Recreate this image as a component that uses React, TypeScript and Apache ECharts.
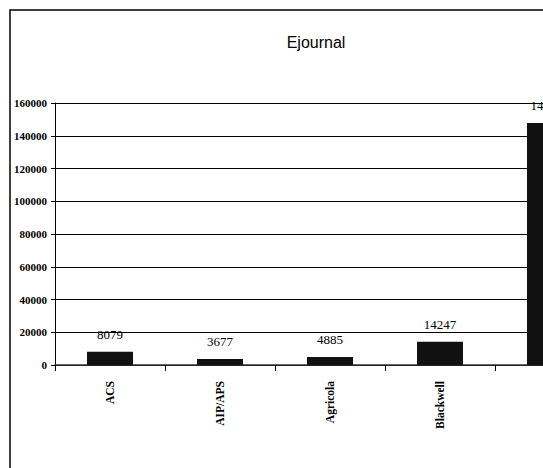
import React, { useEffect, useRef } from "react";
import * as echarts from "echarts";

const categories = ["ACS", "AIP/APS", "Agricola", "Blackwell", ""];
const values = [8079, 3677, 4885, 14247, 147800];
const yTicks = [0, 20000, 40000, 60000, 80000, 100000, 120000, 140000, 160000];
const titleText = "Ejournal";

export default function App() {
  const ref = useRef<HTMLDivElement>(null);
  useEffect(() => {
    if (!ref.current) return;
    const chart = echarts.init(ref.current, null, { renderer: "svg" });
    chart.setOption({
      animation: false,
      backgroundColor: "#ffffff",
      graphic: [
        {
          type: "rect",
          shape: { x: 10, y: 10, width: 800, height: 520 },
          style: { fill: "none", stroke: "#000", lineWidth: 1.5 },
          silent: true,
        },
        {
          type: "text",
          x: 316,
          y: 42,
          style: {
            text: titleText,
            font: "16px 'Liberation Sans', Arial, sans-serif",
            fill: "#000",
            textAlign: "center",
            textVerticalAlign: "middle",
          },
        },
      ],
      grid: { left: 55, top: 103, width: 550, height: 262, containLabel: false },
      xAxis: {
        type: "category",
        data: categories,
        axisLine: { show: true, lineStyle: { color: "#333", width: 1.5 } },
        axisTick: { show: true, length: 6, lineStyle: { color: "#000", width: 1 }, alignWithLabel: false },
        axisLabel: {
          rotate: 90,
          margin: 16,
          color: "#000",
          fontFamily: "'Liberation Serif', 'Times New Roman', serif",
          fontWeight: "bold",
          fontSize: 11.5,
          interval: 0,
        },
      },
      yAxis: {
        type: "value",
        min: yTicks[0],
        max: yTicks[yTicks.length - 1],
        interval: yTicks[1] - yTicks[0],
        axisLine: { show: true, lineStyle: { color: "#000", width: 1 } },
        axisTick: { show: true, length: 4, lineStyle: { color: "#000" } },
        splitLine: { show: true, lineStyle: { color: "#000", width: 1 } },
        axisLabel: {
          margin: 8,
          color: "#000",
          formatter: (v: number) => String(v),
          fontFamily: "'Liberation Serif', 'Times New Roman', serif",
          fontWeight: "bold",
          fontSize: 11,
        },
      },
      series: [
        {
          type: "bar",
          data: values,
          barWidth: 46,
          itemStyle: { color: "#111" },
          label: {
            show: true,
            position: "top",
            distance: 11,
            color: "#000",
            fontFamily: "'Liberation Serif', 'Times New Roman', serif",
            fontSize: 13,
          },
        },
      ],
    });
    return () => chart.dispose();
  }, []);
  return (
    <div
      style={{
        position: "absolute",
        left: 0,
        top: 0,
        width: 543,
        height: 468,
        overflow: "hidden",
        background: "#fff",
      }}
    >
      <div ref={ref} style={{ width: 660, height: 468 }} />
    </div>
  );
}
